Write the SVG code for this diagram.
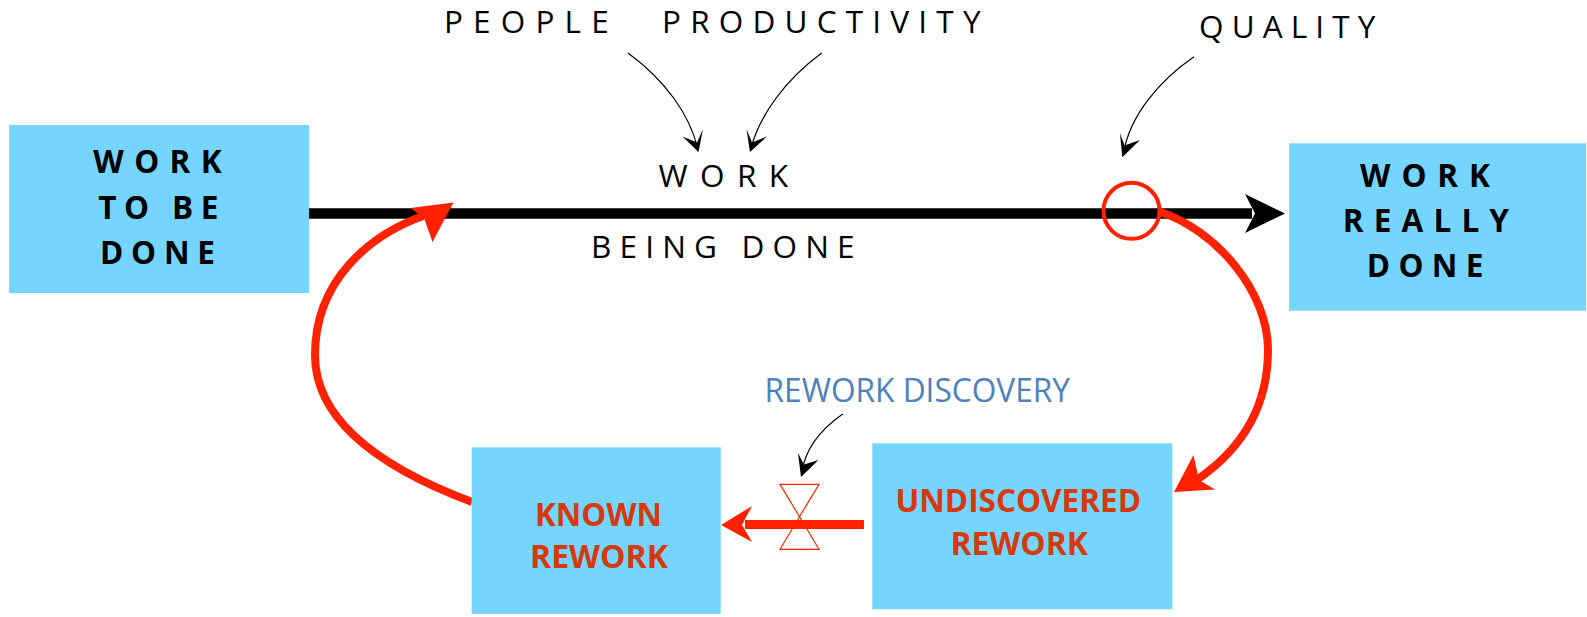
<svg xmlns="http://www.w3.org/2000/svg" width="1587" height="617" viewBox="0 0 1587 617">
<style>
.box{fill:#76D5FE;}
.lbl{font-family:"Open Sans","Liberation Sans",sans-serif;font-size:31.5px;fill:#000;}
.bold{font-weight:700;}
.red{font-family:"Open Sans","Liberation Sans",sans-serif;font-size:32px;font-weight:700;fill:#D43A0C;}
.blue{font-family:"Open Sans","Liberation Sans",sans-serif;font-size:32.5px;fill:#4F81BD;}
.thin{fill:none;stroke:#000;stroke-width:1.2;}
.redflow{fill:none;stroke:#FF2200;stroke-width:8;}
.redhead{fill:#FF2200;}
.blackhead{fill:#000;}
</style>
<rect width="1587" height="617" fill="#fff"/>

<g id="connectors">
  <!-- main black flow -->
  <line x1="309" y1="213.5" x2="1252" y2="213.5" stroke="#000" stroke-width="10.5"/>
  <polygon class="blackhead" points="1285,213.5 1245,194 1255,213.5 1245,233"/>
  <!-- red loop right: from quality circle to undiscovered rework -->
  <path class="redflow" d="M1160,211.7 C1215,230 1268,290 1268,350 C1268,410 1240,450 1198,479"/>
  <polygon class="redhead" points="1174,492 1193.5,455 1199,480 1215,489.5"/>
  <!-- red loop left: from known rework to work to be done -->
  <path class="redflow" d="M472,502 C400,475 315,430 315,355 C315,280 370,235 423,216"/>
  <polygon class="redhead" points="453.5,202.5 410.5,208 424,218 432.5,242"/>
  <!-- bottom flow: undiscovered -> known -->
  <line x1="864" y1="524.5" x2="745" y2="524.5" stroke="#FF2200" stroke-width="9"/>
  <polygon class="redhead" points="721,525 752,506 742,525 752,542"/>
  <!-- influence arrows -->
  <path class="thin" d="M628,53 C665,80 690,115 697.5,148"/>
  <polygon class="blackhead" points="698.5,152 682.5,136.5 697,142.5 703,129"/>
  <path class="thin" d="M821.7,53 C785,80 760,115 751,148"/>
  <polygon class="blackhead" points="750,152 746.5,129 752,142.5 767,136.5"/>
  <path class="thin" d="M1194,56.7 C1160,80 1130,115 1123.5,153"/>
  <polygon class="blackhead" points="1122.3,157.3 1120,133.3 1124.5,145.5 1140,140"/>
  <path class="thin" d="M842.7,414 C820,430 805,450 802,472"/>
  <polygon class="blackhead" points="801,477 798,453 804,464.5 818.5,460"/>
</g>

<g id="work-to-be-done">
  <rect class="box" x="9" y="125" width="300" height="168"/>
  <text class="lbl bold" x="93.3" y="172.7" textLength="128.4" lengthAdjust="spacing">WORK</text>
  <text class="lbl bold" x="98.3" y="219" textLength="120" lengthAdjust="spacing">TO BE</text>
  <text class="lbl bold" x="100" y="264" textLength="115" lengthAdjust="spacing">DONE</text>
</g>

<g id="work-really-done">
  <rect class="box" x="1289" y="143.3" width="297" height="167.4"/>
  <text class="lbl bold" x="1360" y="186.7" textLength="130" lengthAdjust="spacing">WORK</text>
  <text class="lbl bold" x="1342.8" y="232.3" textLength="166.2" lengthAdjust="spacing">REALLY</text>
  <text class="lbl bold" x="1366.8" y="277.3" textLength="116.5" lengthAdjust="spacing">DONE</text>
</g>

<g id="known-rework">
  <rect class="box" x="471.6" y="447.3" width="249.1" height="166.7"/>
  <text class="red" x="535" y="525.7" textLength="127" lengthAdjust="spacingAndGlyphs">KNOWN</text>
  <text class="red" x="530" y="568.3" textLength="138" lengthAdjust="spacingAndGlyphs">REWORK</text>
</g>

<g id="undiscovered-rework">
  <rect class="box" x="872.3" y="443.3" width="300" height="166"/>
  <text class="red" x="895.4" y="511.7" textLength="245.6" lengthAdjust="spacingAndGlyphs">UNDISCOVERED</text>
  <text class="red" x="950.5" y="555" textLength="137.5" lengthAdjust="spacingAndGlyphs">REWORK</text>
</g>

<g id="work-being-done">
  <text class="lbl" x="658.6" y="187.3" textLength="129.4" lengthAdjust="spacing">WORK</text>
  <text class="lbl" x="591" y="258.3" textLength="263.6" lengthAdjust="spacing">BEING DONE</text>
</g>

<g id="quality-point">
  <circle cx="1131.5" cy="210.8" r="28" fill="none" stroke="#FF2200" stroke-width="4"/>
</g>

<g id="people">
  <text class="lbl" x="444" y="33.4" textLength="164.7" lengthAdjust="spacing">PEOPLE</text>
</g>
<g id="productivity">
  <text class="lbl" x="662" y="33.4" textLength="318.5" lengthAdjust="spacing">PRODUCTIVITY</text>
</g>
<g id="quality">
  <text class="lbl" x="1199" y="37.7" textLength="176.4" lengthAdjust="spacing">QUALITY</text>
</g>
<g id="rework-discovery">
  <text class="blue" x="764.6" y="401.7" textLength="305.4" lengthAdjust="spacingAndGlyphs">REWORK DISCOVERY</text>
</g>
<g id="valve">
  <polygon points="780,484.3 819,484.3 799.5,516.7" fill="none" stroke="#FF2200" stroke-width="1.2"/>
  <polygon points="799.5,516.7 780,549.3 819,549.3" fill="none" stroke="#FF2200" stroke-width="1.2"/>
</g>
</svg>
